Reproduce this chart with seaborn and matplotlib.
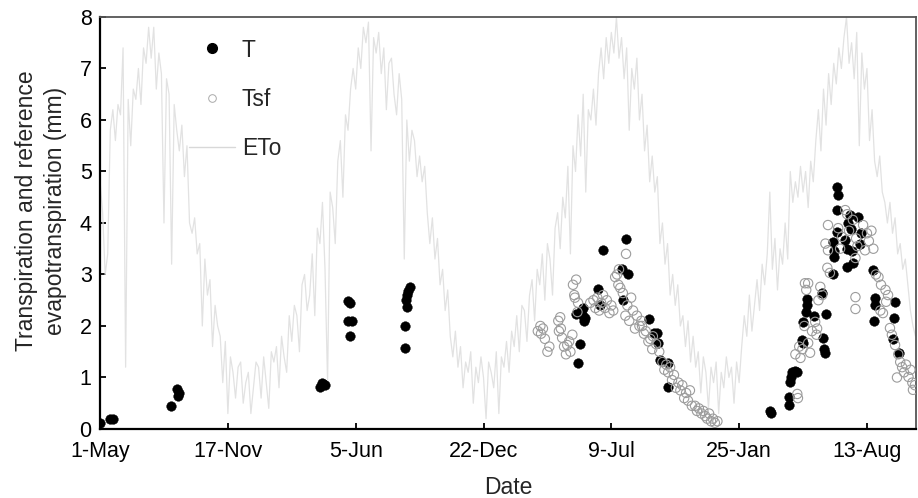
import numpy as np
import pandas as pd
import seaborn as sns
import matplotlib.pyplot as plt
from matplotlib.lines import Line2D

# Reference evapotranspiration, one reading every 4 days from 1-May (day 0)
eto = [
    4.8, 4.2, 3.0, 3.4, 5.8, 6.2, 5.6, 6.3, 6.1, 7.4, 1.2, 6.4, 5.5, 6.6, 6.4, 7.0, 6.3, 7.4, 7.1, 7.8, 7.2, 7.8, 6.6, 7.3, 6.9,
    4.0, 6.8, 6.5, 3.2, 6.3, 5.8, 5.4, 5.9, 4.9, 5.5, 4.0, 3.8, 4.1, 3.4, 3.6, 2.0, 3.3, 2.6, 2.9, 1.6, 2.4, 2.0, 1.8, 0.9, 1.7,
    0.3, 1.4, 1.1, 0.6, 1.2, 1.3, 0.5, 0.9, 1.1, 0.3, 0.8, 1.3, 1.2, 0.6, 1.4, 0.9, 0.4, 1.5, 1.3, 1.6, 0.8, 1.8, 1.4, 1.1, 2.2,
    1.7, 2.4, 2.2, 1.5, 2.8, 3.0, 2.3, 2.6, 3.4, 2.2, 3.9, 3.6, 4.4, 3.1, 0.9, 4.6, 4.3, 3.6, 5.2, 5.6, 4.5, 6.1, 5.8, 6.6, 7.0,
    6.6, 7.4, 7.0, 7.8, 7.5, 7.9, 5.4, 7.6, 7.3, 7.7, 6.9, 7.4, 6.2, 7.1, 7.2, 6.5, 6.1, 6.9, 6.4, 3.3, 6.0, 5.2, 5.8, 5.6, 4.9,
    5.3, 4.8, 5.1, 4.2, 3.6, 4.1, 3.3, 3.7, 2.8, 3.1, 2.3, 2.7, 1.8, 1.4, 1.9, 1.2, 1.6, 0.8, 1.3, 1.1, 1.5, 0.5, 1.2, 0.9, 1.4,
    1.0, 0.2, 1.3, 1.1, 0.8, 1.5, 0.3, 1.4, 1.2, 1.7, 1.1, 1.9, 1.6, 2.2, 1.5, 2.4, 2.3, 1.7, 2.6, 2.9, 2.1, 3.1, 2.8, 3.4, 2.5,
    3.6, 3.3, 2.6, 3.9, 4.2, 3.5, 4.5, 4.1, 5.1, 3.4, 5.5, 5.0, 6.1, 5.3, 6.5, 4.6, 6.2, 6.0, 6.6, 5.9, 6.9, 7.4, 6.8, 7.6, 7.1,
    7.7, 7.3, 8.0, 7.2, 7.6, 6.8, 7.4, 5.8, 7.0, 6.6, 7.2, 6.0, 6.5, 5.4, 5.9, 4.8, 5.3, 4.6, 4.9, 3.6, 4.0, 3.2, 3.6, 2.6, 3.0,
    2.4, 2.8, 2.0, 2.2, 1.6, 2.1, 1.3, 1.8, 1.2, 1.5, 0.7, 1.4, 1.1, 0.4, 1.2, 0.9, 1.3, 0.3, 1.1, 0.8, 1.4, 1.0, 1.2, 0.5, 1.3,
    0.9, 1.6, 2.2, 1.8, 2.6, 1.9, 2.4, 2.9, 2.3, 3.2, 2.8, 3.4, 4.6, 3.1, 3.7, 2.7, 3.5, 3.2, 4.0, 3.3, 5.0, 4.4, 4.8, 4.5, 5.1,
    4.6, 5.0, 4.3, 5.2, 4.8, 5.6, 6.2, 5.4, 6.6, 5.9, 6.9, 6.3, 7.1, 6.7, 7.4, 7.0, 7.6, 8.0, 7.1, 7.5, 6.8, 7.7, 5.5, 7.3, 6.6,
    7.0, 5.6, 6.2, 5.2, 4.9, 5.3, 4.6, 4.4, 4.0, 4.4, 3.8, 4.1, 3.4, 3.6, 3.1, 3.3, 2.8, 2.3, 2.0, 1.8,
]
eto_days = np.arange(0, 4 * len(eto), 4)

# Measured transpiration (T), day number and mm
t_days = [0, 16, 20, 111, 121, 122, 124, 344, 347, 349, 352, 388, 391, 388, 394, 391,
          477, 477, 480, 479, 480, 482, 485,
          745, 748, 751, 753, 756, 756, 757, 759, 779, 783, 787, 817, 818, 823, 826,
          859, 867, 872, 873, 876, 889, 889,
          1049, 1050, 1078, 1078, 1080, 1081, 1083, 1088, 1091, 1099, 1100, 1100, 1105, 1106, 1106,
          1117, 1130, 1131, 1133, 1135, 1136, 1147, 1147, 1149, 1149, 1153, 1153, 1153, 1155,
          1166, 1169, 1169, 1171, 1174, 1175, 1178, 1177, 1186, 1189, 1191,
          1210, 1211, 1213, 1213, 1241, 1243, 1244, 1250]
t_vals = [0.12, 0.19, 0.2, 0.44, 0.78, 0.65, 0.7, 0.82, 0.9, 0.88, 0.86, 2.48, 2.44, 2.1, 2.1, 1.81,
          1.57, 2.0, 2.36, 2.5, 2.6, 2.68, 2.76,
          2.23, 1.28, 1.65, 2.3, 2.2, 2.35, 2.1, 2.15, 2.72, 2.4, 3.48, 3.1, 2.5, 3.69, 3.0,
          2.13, 1.86, 1.86, 1.67, 1.34, 1.28, 0.82,
          0.35, 0.31, 0.62, 0.47, 0.91, 1.0, 1.1, 1.12, 1.1, 1.73, 1.67, 2.08, 2.27, 2.41, 2.52,
          2.2, 2.64, 1.77, 1.55, 1.48, 2.23, 3.0, 3.63, 3.45, 3.34, 3.83, 4.25, 4.7, 4.54,
          3.67, 3.15, 3.5, 4.0, 4.16, 3.88, 3.22, 3.45, 4.12, 3.6, 3.8,
          3.09, 2.1, 2.54, 2.4, 1.75, 2.15, 2.47, 1.48]

# Transpiration from sap flow (Tsf)
tsf_days = [685, 689, 690, 693, 696, 700, 703, 717, 718, 720, 721, 723, 726, 729, 731, 734, 736, 739,
            740, 742, 743, 745, 747, 748, 767, 772, 775, 778, 781, 784, 787, 790, 793, 797, 800, 803,
            806, 809, 811, 814, 812, 823, 818, 822, 825, 828, 831, 834, 837, 840, 844, 847,
            848, 851, 854, 858, 861, 864, 865, 870, 875, 880, 883, 886, 889, 892, 895, 898, 901,
            905, 908, 911, 914, 917, 920, 923, 926, 931, 934, 937, 941, 944, 947, 950, 953, 956, 959, 962, 966,
            1088, 1091, 1092, 1094, 1096, 1099, 1102, 1103, 1105, 1108, 1108, 1111, 1114,
            1119, 1121, 1122, 1124, 1127, 1130, 1135, 1138, 1139, 1139, 1142,
            1155, 1158, 1161, 1166, 1169, 1172, 1178, 1182, 1182, 1182, 1183, 1185,
            1194, 1197, 1200, 1203, 1207, 1210, 1214, 1218, 1221, 1222, 1225, 1229, 1230, 1233, 1236, 1239,
            1244, 1247, 1249, 1252, 1255, 1258, 1261, 1265, 1268, 1271, 1272, 1275]
tsf_vals = [1.9, 2.0, 1.85, 1.95, 1.75, 1.5, 1.6, 2.1, 1.9, 2.17, 1.95, 1.77, 1.6, 1.45, 1.63, 1.7, 1.5, 1.83,
            2.8, 2.6, 2.55, 2.9, 2.27, 2.45, 2.45, 2.5, 2.35, 2.55, 2.3, 2.45, 2.6, 2.35, 2.5, 2.25, 2.4, 2.3,
            2.95, 3.0, 2.8, 2.74, 3.1, 3.4, 2.64, 2.2, 2.4, 2.1, 2.55, 2.3, 1.95, 2.2, 2.0, 2.1,
            2.0, 1.85, 1.9, 1.7, 1.75, 1.55, 1.8, 1.65, 1.5, 1.3, 1.15, 1.25, 1.1, 1.2, 0.95, 1.05, 0.8,
            0.9, 0.75, 0.85, 0.6, 0.7, 0.55, 0.75, 0.45, 0.45, 0.35, 0.4, 0.3, 0.35, 0.25, 0.2, 0.3, 0.15, 0.2, 0.12, 0.15,
            1.45, 0.68, 0.6, 1.6, 1.38, 1.55, 2.0, 2.83, 2.7, 2.83, 1.67, 1.48, 1.9,
            2.08, 1.83, 1.95, 2.5, 2.76, 2.6, 3.6, 3.13, 3.47, 3.96, 3.03,
            3.9, 3.5, 3.73, 4.25, 4.17, 3.85, 4.06, 3.32, 2.56, 2.33, 3.7, 3.55,
            3.96, 3.47, 3.8, 3.65, 3.85, 3.5, 3.0, 2.95, 2.3, 2.8, 2.25, 2.7, 2.47, 2.6, 1.96, 1.83,
            1.63, 1.0, 1.45, 1.3, 1.2, 1.1, 1.25, 1.01, 1.15, 0.9, 0.76, 0.85]

tick_days = [0, 200, 400, 600, 800, 1000, 1200]
tick_labels = ["1-May", "17-Nov", "5-Jun", "22-Dec", "9-Jul", "25-Jan", "13-Aug"]

eto_df = pd.DataFrame({"day": eto_days, "ETo": eto})
t_df = pd.DataFrame({"day": t_days, "T": t_vals})
tsf_df = pd.DataFrame({"day": tsf_days, "Tsf": tsf_vals})

sns.set_style("ticks")
plt.rcParams["font.family"] = ["Liberation Sans", "DejaVu Sans"]

fig = plt.figure(figsize=(9.18, 4.98), dpi=100)
ax = fig.add_axes([0.109, 0.1386, 0.889, 0.8273])

eto_col = "#e2e2e2"
tsf_col = "#9c9c9c"

sns.lineplot(data=eto_df, x="day", y="ETo", ax=ax, color=eto_col, lw=0.9,
             estimator=None, sort=False, zorder=1)
sns.scatterplot(data=t_df, x="day", y="T", ax=ax, color="black", s=48,
                edgecolor="black", linewidth=0.3, zorder=2)
sns.scatterplot(data=tsf_df, x="day", y="Tsf", ax=ax, s=45, zorder=3)
hollow = ax.collections[-1]
hollow.set_facecolor("none")
hollow.set_edgecolor(tsf_col)
hollow.set_linewidth(0.8)

ax.set_xlim(0, 1277)
ax.set_ylim(0, 8)
ax.set_xticks(tick_days)
ax.set_xticklabels(tick_labels)
ax.set_yticks(range(0, 9))

ax.tick_params(axis="both", direction="in", length=4, width=1.3, labelsize=15.5,
               color="black", labelcolor="black")
ax.tick_params(axis="x", pad=8.5)
ax.tick_params(axis="y", pad=6)

for side in ["left", "bottom"]:
    ax.spines[side].set_color("black")
    ax.spines[side].set_linewidth(1.6)
for side in ["top", "right"]:
    ax.spines[side].set_visible(True)
    ax.spines[side].set_color("#555555")
    ax.spines[side].set_linewidth(1.3)

ax.set_xlabel("Date", fontsize=16.5)
ax.set_ylabel("Transpiration and reference\nevapotranspiration (mm)", fontsize=16.5,
              linespacing=1.35)
ax.xaxis.set_label_coords(0.5, -0.115)
ax.yaxis.set_label_coords(-0.04, 0.53)

handles = [
    Line2D([], [], marker="o", ls="", color="black", markersize=7),
    Line2D([], [], marker="o", ls="", mfc="none", mec="#aaaaaa", mew=0.7, markersize=5.5),
    Line2D([], [], color="#d8d8d8", lw=1),
]
ax.legend(handles, ["T", "Tsf", "ETo"], loc="upper left", bbox_to_anchor=(0.098, 0.97),
          borderaxespad=0, frameon=False, fontsize=16.5, labelspacing=1.14,
          handlelength=2.0, handletextpad=0.3)

plt.savefig("out.png", dpi=100)
